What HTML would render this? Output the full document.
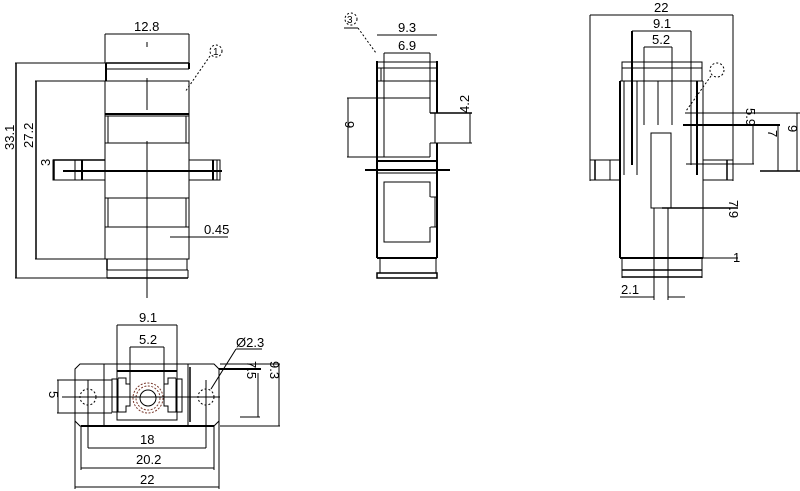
<!DOCTYPE html>
<html><head><meta charset="utf-8"><style>
html,body{margin:0;padding:0;background:#fff;}
svg{display:block;}
svg text{font-family:"Liberation Sans",sans-serif;font-size:13px;fill:#000;stroke:none;}
</style></head><body>
<svg width="800" height="491" viewBox="0 0 800 491" xmlns="http://www.w3.org/2000/svg" fill="none" stroke="#000" stroke-width="1">
<!-- ===== View 1 (front) ===== -->
<g>
<rect x="105" y="81" width="84" height="178"/>
<line x1="106" y1="63" x2="189" y2="63" stroke-width="1.5"/>
<line x1="106" y1="69" x2="189" y2="69"/>
<line x1="106" y1="63" x2="106" y2="81" stroke-width="2"/>
<line x1="189" y1="63" x2="189" y2="69" stroke-width="2"/>
<line x1="105" y1="114" x2="189" y2="114" stroke-width="2"/>
<line x1="105" y1="116" x2="189" y2="116"/>
<line x1="108" y1="116" x2="108" y2="143"/><line x1="186" y1="116" x2="186" y2="143"/>
<line x1="105" y1="143" x2="189" y2="143"/>
<line x1="105" y1="198" x2="189" y2="198"/>
<line x1="108" y1="198" x2="108" y2="227"/><line x1="186" y1="198" x2="186" y2="227"/>
<line x1="105" y1="227" x2="189" y2="227"/>
<line x1="107" y1="259" x2="107" y2="270" stroke-width="1.5"/>
<line x1="187" y1="259" x2="187" y2="270"/>
<line x1="107" y1="270" x2="188" y2="270"/>
<line x1="107" y1="278" x2="188" y2="278" stroke-width="1.5"/>
<line x1="107" y1="270" x2="107" y2="278"/><line x1="188" y1="270" x2="188" y2="278"/>
<polyline points="105,160 53,160 53,180 105,180"/>
<line x1="53" y1="160" x2="105" y2="160" stroke-width="1.5"/>
<line x1="75" y1="160" x2="75" y2="180"/><line x1="82" y1="160" x2="82" y2="180" stroke-width="2"/>
<polyline points="189,160 220,160 220,180 189,180"/>
<line x1="213" y1="160" x2="213" y2="180" stroke-width="2"/><line x1="217" y1="160" x2="217" y2="180"/>
<line x1="63" y1="171" x2="222" y2="171" stroke-width="2"/>
<line x1="147" y1="42" x2="147" y2="47"/><line x1="147" y1="78" x2="147" y2="110"/>
<line x1="147" y1="141" x2="147" y2="298"/>
<line x1="105" y1="34" x2="189" y2="34"/><line x1="105" y1="34" x2="105" y2="63"/><line x1="189" y1="34" x2="189" y2="63"/>
<text x="134" y="31">12.8</text>
<line x1="15" y1="63" x2="106" y2="63"/><line x1="15" y1="278" x2="188" y2="278"/>
<line x1="16" y1="63" x2="16" y2="278" stroke-width="1.5"/>
<text transform="translate(14,150) rotate(-90)">33.1</text>
<line x1="35" y1="81" x2="105" y2="81"/><line x1="35" y1="259" x2="105" y2="259"/>
<line x1="36" y1="81" x2="36" y2="259" stroke-width="1.5"/>
<text transform="translate(33,148) rotate(-90)">27.2</text>
<text transform="translate(50,166) rotate(-90)">3</text>
<line x1="54" y1="160" x2="54" y2="180" stroke-width="1.5"/>
<line x1="170" y1="237" x2="228" y2="237"/>
<text x="204" y="234">0.45</text>
<circle cx="216" cy="51" r="6" stroke-dasharray="2,2"/>
<text x="213" y="55" style="font-size:10px">1</text>
<line x1="210" y1="56" x2="185" y2="92" stroke-dasharray="2,2"/>
</g>
<!-- ===== View 2 (side) ===== -->
<g>
<line x1="377" y1="61" x2="377" y2="258" stroke-width="2"/>
<line x1="437" y1="61" x2="437" y2="113" stroke-width="2"/>
<line x1="437" y1="143" x2="437" y2="258" stroke-width="2"/>
<line x1="377" y1="62" x2="437" y2="62"/><line x1="377" y1="68" x2="437" y2="68"/>
<line x1="377" y1="81" x2="437" y2="81"/>
<line x1="384" y1="53" x2="384" y2="157"/><line x1="430" y1="53" x2="430" y2="113"/>
<line x1="381" y1="68" x2="381" y2="81"/>
<line x1="347" y1="98" x2="430" y2="98"/>
<line x1="430" y1="113" x2="472" y2="113" stroke-width="1.5"/>
<line x1="435" y1="113" x2="435" y2="143"/>
<line x1="430" y1="143" x2="472" y2="143"/>
<line x1="430" y1="143" x2="430" y2="157"/>
<line x1="347" y1="157" x2="430" y2="157"/>
<line x1="377" y1="161" x2="437" y2="161" stroke-width="2"/>
<line x1="365" y1="170" x2="450" y2="170" stroke-width="2"/>
<line x1="377" y1="173" x2="437" y2="173"/>
<rect x="384" y="182" width="46" height="60"/>
<line x1="430" y1="197" x2="437" y2="197"/><line x1="430" y1="227" x2="437" y2="227"/>
<line x1="430" y1="197" x2="430" y2="227" stroke="#fff"/>
<line x1="435" y1="197" x2="435" y2="227"/>
<line x1="377" y1="258" x2="437" y2="258" stroke-width="2"/>
<line x1="380" y1="258" x2="380" y2="273"/><line x1="436" y1="258" x2="436" y2="273"/>
<rect x="377" y="273" width="60" height="5" stroke-width="1.5"/>
<line x1="377" y1="35" x2="437" y2="35"/><text x="398" y="32">9.3</text>
<line x1="384" y1="53" x2="430" y2="53"/><text x="398" y="50">6.9</text>
<line x1="348" y1="98" x2="348" y2="157"/><text transform="translate(345,121) rotate(90)">9</text>
<line x1="470" y1="113" x2="470" y2="143"/><text transform="translate(469,113) rotate(-90)">4.2</text>
<circle cx="351" cy="19" r="6" stroke-dasharray="2,2"/><text x="347" y="23" style="font-size:10px">3</text>
<line x1="344" y1="28" x2="358" y2="28"/><line x1="358" y1="28" x2="376" y2="53" stroke-dasharray="2,2"/>
</g>
<!-- ===== View 3 (back) ===== -->
<g>
<line x1="590" y1="15" x2="733" y2="15"/><text x="654" y="12">22</text>
<line x1="590" y1="15" x2="590" y2="181"/><line x1="733" y1="15" x2="733" y2="181"/>
<rect x="622" y="62" width="80" height="6"/>
<line x1="622" y1="68" x2="622" y2="81"/><line x1="702" y1="68" x2="702" y2="81"/>
<line x1="620" y1="81" x2="703" y2="81"/>
<line x1="620" y1="81" x2="620" y2="258" stroke-width="2"/>
<line x1="703" y1="81" x2="703" y2="258"/>
<line x1="624" y1="81" x2="624" y2="175"/>
<line x1="632" y1="31" x2="632" y2="165" stroke-width="2"/><line x1="637" y1="81" x2="637" y2="175"/>
<line x1="691" y1="31" x2="691" y2="165"/><line x1="697" y1="81" x2="697" y2="175" stroke-width="2"/>
<line x1="644" y1="47" x2="644" y2="125"/><line x1="672" y1="47" x2="672" y2="125"/>
<line x1="658" y1="81" x2="658" y2="125"/>
<rect x="651" y="133" width="20" height="75"/>
<line x1="654" y1="208" x2="654" y2="300"/><line x1="668" y1="208" x2="668" y2="300"/>
<line x1="590" y1="160" x2="620" y2="160"/><line x1="590" y1="180" x2="620" y2="180"/>
<line x1="595" y1="160" x2="595" y2="180" stroke-width="1.5"/><line x1="610" y1="160" x2="610" y2="180"/>
<line x1="703" y1="160" x2="733" y2="160"/><line x1="703" y1="180" x2="733" y2="180"/>
<line x1="727" y1="160" x2="727" y2="180" stroke-width="1.5"/>
<line x1="620" y1="258" x2="703" y2="258" stroke-width="2"/>
<line x1="703" y1="258" x2="738" y2="258"/>
<line x1="622" y1="258" x2="622" y2="278"/><line x1="702" y1="258" x2="702" y2="278"/>
<line x1="622" y1="270" x2="702" y2="270" stroke-width="1.5"/>
<line x1="622" y1="277" x2="702" y2="277" stroke-width="1.5"/>
<line x1="632" y1="31" x2="691" y2="31"/><text x="653" y="28">9.1</text>
<line x1="644" y1="47" x2="672" y2="47"/><text x="652" y="44">5.2</text>
<line x1="685" y1="113" x2="800" y2="113"/>
<line x1="683" y1="125" x2="780" y2="125" stroke-width="2"/>
<line x1="686" y1="164" x2="754" y2="164"/>
<line x1="760" y1="171" x2="800" y2="171" stroke-width="1.5"/>
<line x1="753" y1="125" x2="753" y2="164"/>
<line x1="778" y1="125" x2="778" y2="171"/>
<line x1="797" y1="113" x2="797" y2="171"/>
<text transform="translate(746,108) rotate(90)">5.9</text>
<text transform="translate(768,130) rotate(90)">7</text>
<text transform="translate(788,125) rotate(90)">9</text>
<line x1="662" y1="208" x2="738" y2="208" stroke-width="1.5"/>
<text transform="translate(729,200) rotate(90)">7.9</text>
<text x="733" y="262">1</text>
<line x1="620" y1="297" x2="654" y2="297"/><line x1="668" y1="297" x2="685" y2="297"/>
<text x="621" y="294">2.1</text>
<circle cx="717" cy="70" r="7" stroke-dasharray="2,2"/>
<line x1="711" y1="76" x2="686" y2="111" stroke-dasharray="2,2"/>
</g>
<!-- ===== View 4 (top) ===== -->
<g>
<polygon points="80,364 214,364 219,369 219,421 214,426 80,426 75,421 75,369"/>
<line x1="81" y1="426" x2="214" y2="426" stroke-width="2"/>
<line x1="104" y1="364" x2="104" y2="426"/><line x1="188" y1="364" x2="188" y2="426"/>
<line x1="220" y1="364" x2="280" y2="364"/><line x1="220" y1="426" x2="280" y2="426"/>
<rect x="117" y="371" width="60" height="49"/>
<line x1="117" y1="371" x2="177" y2="371" stroke-width="2"/>
<rect x="112" y="379" width="6" height="33"/>
<rect x="176" y="379" width="6" height="33"/>
<polyline points="118,378 126,378 126,384 130,384 130,406 126,406 126,412 118,412"/>
<polyline points="176,378 168,378 168,384 164,384 164,406 168,406 168,412 176,412"/>
<line x1="190" y1="367" x2="190" y2="422" stroke-width="1.5"/>
<circle cx="148" cy="398" r="15" stroke="#7a3b2e" stroke-dasharray="2,1.5"/>
<circle cx="148" cy="398" r="12" stroke="#7a3b2e" stroke-dasharray="2,1.5"/>
<circle cx="148" cy="398" r="8"/>
<circle cx="88" cy="397" r="8" stroke-dasharray="2,2"/>
<circle cx="206" cy="397" r="8" stroke-dasharray="2,2"/>
<line x1="62" y1="397" x2="220" y2="397"/>
<line x1="88" y1="380" x2="88" y2="448"/><line x1="206" y1="380" x2="206" y2="448"/>
<line x1="81" y1="426" x2="81" y2="470"/><line x1="214" y1="426" x2="214" y2="470"/>
<line x1="75" y1="421" x2="75" y2="489"/><line x1="219" y1="421" x2="219" y2="489"/>
<line x1="117" y1="325" x2="117" y2="371"/><line x1="177" y1="325" x2="177" y2="371"/>
<line x1="130" y1="347" x2="130" y2="384"/><line x1="164" y1="347" x2="164" y2="384"/>
<line x1="117" y1="325" x2="177" y2="325"/><text x="139" y="322">9.1</text>
<line x1="130" y1="347" x2="164" y2="347"/><text x="139" y="344">5.2</text>
<line x1="88" y1="448" x2="206" y2="448"/><text x="140" y="444">18</text>
<line x1="81" y1="468" x2="214" y2="468"/><text x="136" y="464">20.2</text>
<line x1="75" y1="487" x2="219" y2="487"/><text x="140" y="484">22</text>
<line x1="57" y1="380" x2="112" y2="380"/><line x1="57" y1="413" x2="112" y2="413"/>
<line x1="58" y1="380" x2="58" y2="413"/><text transform="translate(49,391) rotate(90)">5</text>
<line x1="219" y1="369" x2="261" y2="369" stroke-width="2"/>
<line x1="258" y1="373" x2="258" y2="417"/><line x1="240" y1="417" x2="260" y2="417"/>
<text transform="translate(247,361) rotate(90)">7.5</text>
<line x1="279" y1="364" x2="279" y2="426"/>
<text transform="translate(270,361) rotate(90)">9.3</text>
<text x="236" y="347">Ø2.3</text>
<line x1="236" y1="349" x2="262" y2="349"/>
<line x1="236" y1="349" x2="211" y2="389"/>
</g>
</svg>
</body></html>
